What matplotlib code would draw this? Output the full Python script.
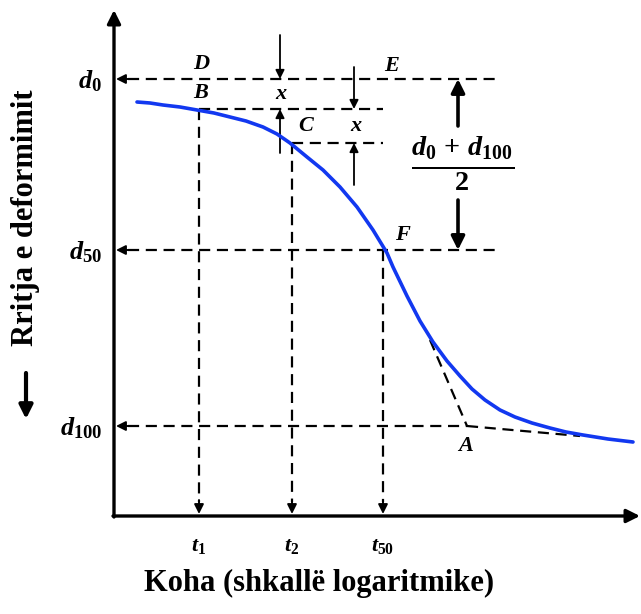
import matplotlib.pyplot as plt

plt.rcParams['font.family'] = ['Liberation Serif', 'DejaVu Serif']
plt.rcParams['mathtext.fontset'] = 'custom'
plt.rcParams['mathtext.rm'] = 'Liberation Serif:bold'
plt.rcParams['mathtext.it'] = 'Liberation Serif:italic:bold'
plt.rcParams['mathtext.bf'] = 'Liberation Serif:bold'

# schematic coordinates (x: log time, y: deformation, growing downward)
curve_x = [137, 150, 163, 180, 197, 214, 230, 246, 263, 277, 290, 307, 323,
           340, 357, 373, 387, 393, 407, 420, 433, 447, 460, 472, 485, 500,
           515, 532, 550, 566, 583, 608, 633]
curve_y = [102, 103, 105, 107, 110, 113, 117, 121, 127, 134, 143, 157, 170,
           187, 207, 230, 253, 267, 296, 321, 342, 361, 376, 389, 400, 410,
           417, 423, 428, 432, 435, 439, 442]

d_levels = [79, 250, 426]
d_labels = [r'$d_0$', r'$d_{50}$', r'$d_{100}$']
d_ends = [500, 500, 467]

t_pos = [199, 292, 383]
t_top = [109, 143, 250]
t_labels = [r'$t_1$', r'$t_2$', r'$t_{50}$']

y_B, y_C = 109, 143
x_left, x_bottom = 114, 516
A = (467, 426)
tangent_steep = (430, 340)
tangent_flat = (580, 436)

fig = plt.figure(figsize=(6.41, 6.14), dpi=100)
ax = fig.add_axes([0, 0, 1, 1])
ax.set_xlim(0, 641)
ax.set_ylim(614, 0)
ax.axis('off')

dash = dict(color='black', lw=1.6, dashes=(5, 3))
head = dict(arrowstyle='-|>', color='black', lw=1.4, mutation_scale=14,
            shrinkA=0, shrinkB=0)

# axes with arrows
ax.annotate('', xy=(x_left, 10), xytext=(x_left, x_bottom + 1),
            arrowprops=dict(arrowstyle='-|>', color='black', lw=2.4,
                            mutation_scale=20, shrinkA=0, shrinkB=0))
ax.annotate('', xy=(640, x_bottom), xytext=(x_left - 1, x_bottom),
            arrowprops=dict(arrowstyle='-|>', color='black', lw=2.4,
                            mutation_scale=20, shrinkA=0, shrinkB=0))

# horizontal dashed lines to the y axis
for y, x_end, lab in zip(d_levels, d_ends, d_labels):
    ax.plot([x_left + 14, x_end], [y, y], **dash)
    ax.annotate('', xy=(x_left + 2, y), xytext=(x_left + 16, y), arrowprops=head)
    ax.text(x_left - 12, y + 2, lab, fontsize=19, ha='right', va='center')

ax.plot([t_pos[0], 383], [y_B, y_B], **dash)
ax.plot([t_pos[1], 383], [y_C, y_C], **dash)

# vertical dashed lines to the x axis
for x, y0, lab in zip(t_pos, t_top, t_labels):
    ax.plot([x, x], [y0, x_bottom - 14], **dash)
    ax.annotate('', xy=(x, x_bottom - 2), xytext=(x, x_bottom - 16), arrowprops=head)
    ax.text(x, 546, lab, fontsize=16, ha='center', va='center')

# tangents at A
ax.plot([tangent_steep[0], A[0]], [tangent_steep[1], A[1]], **dash)
ax.plot([A[0], tangent_flat[0]], [A[1], tangent_flat[1]], **dash)

# consolidation curve
ax.plot(curve_x, curve_y, color='#1238f0', lw=2.6, solid_capstyle='round',
        solid_joinstyle='round', zorder=5)

# x arrows
thin = dict(arrowstyle='-|>', color='black', lw=1.3, mutation_scale=13,
            shrinkA=0, shrinkB=0)
ax.annotate('', xy=(280, d_levels[0]), xytext=(280, 35), arrowprops=thin)
ax.annotate('', xy=(280, y_B), xytext=(280, 153), arrowprops=thin)
ax.annotate('', xy=(354, y_B), xytext=(354, 67), arrowprops=thin)
ax.annotate('', xy=(354, y_C), xytext=(354, 185), arrowprops=thin)

# big arrows for (d0 + d100)/2
thick = dict(arrowstyle='-|>', color='black', lw=2.6, mutation_scale=20,
             shrinkA=0, shrinkB=0)
ax.annotate('', xy=(458, d_levels[0]), xytext=(458, 126), arrowprops=thick)
ax.annotate('', xy=(458, d_levels[1]), xytext=(458, 200), arrowprops=thick)
ax.text(463, 164, r'$\frac{d_0\,+\,d_{100}}{2}$', fontsize=29, ha='center', va='center')

# point labels
pt = dict(fontsize=16, style='italic', weight='bold', ha='center', va='center')
ax.text(201, 64, 'D', **pt)
ax.text(201, 93, 'B', **pt)
ax.text(281, 94, 'x', **pt)
ax.text(306, 126, 'C', **pt)
ax.text(356, 126, 'x', **pt)
ax.text(392, 66, 'E', **pt)
ax.text(402, 235, 'F', **pt)
ax.text(466, 446, 'A', **pt)

# axis labels
ax.text(319, 583, 'Koha (shkallë logaritmike)', fontsize=22, weight='bold',
        ha='center', va='center')
ax.text(26, 218, 'Rritja e deformimit', fontsize=22, weight='bold',
        rotation=90, ha='center', va='center')
ax.annotate('', xy=(26, 419), xytext=(26, 373),
            arrowprops=dict(arrowstyle='-|>', color='black', lw=3,
                            mutation_scale=20, shrinkA=0, shrinkB=0))

fig.savefig('out.png', dpi=100)
